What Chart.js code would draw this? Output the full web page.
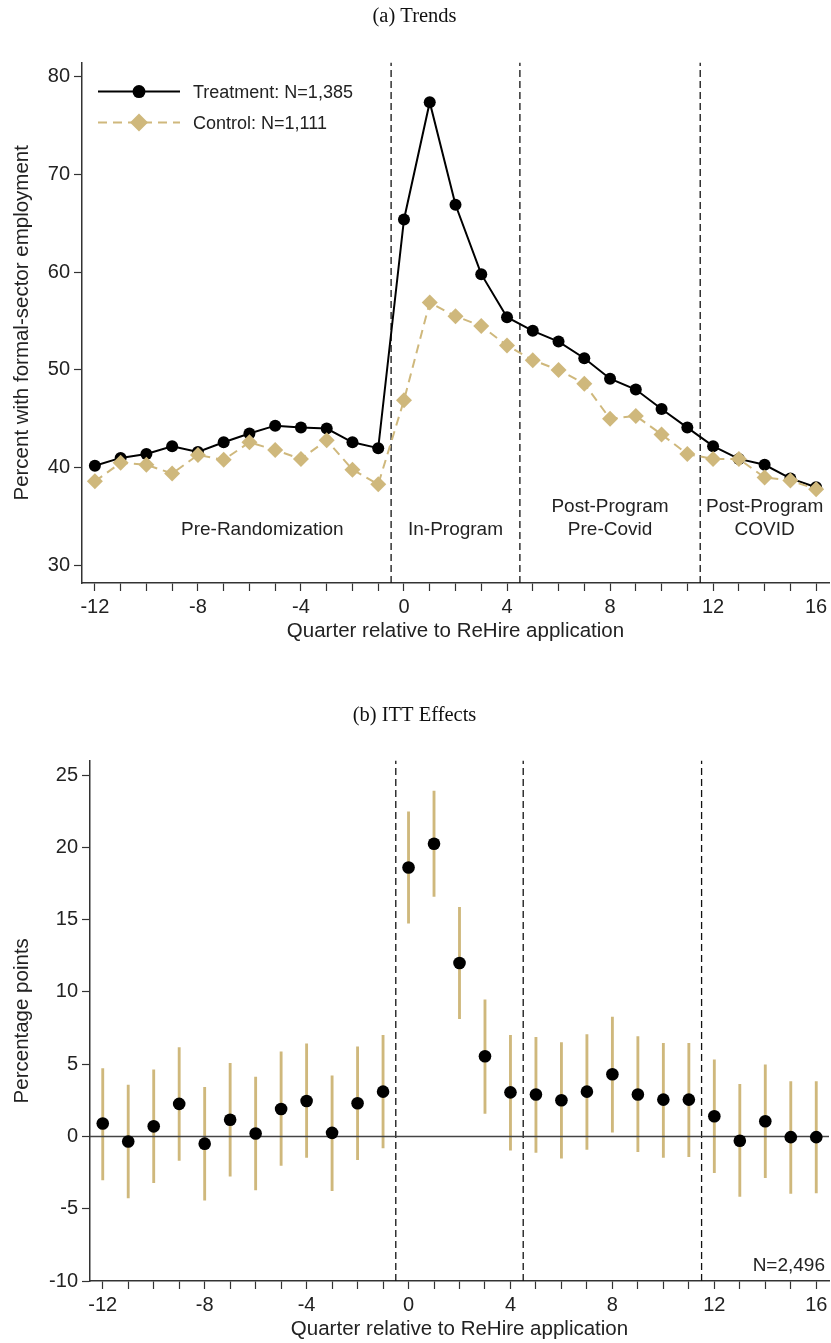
<!DOCTYPE html>
<html>
<head>
<meta charset="utf-8">
<title>ReHire: employment trends and ITT effects</title>
<script src="https://cdn.jsdelivr.net/npm/chart.js@4.4.0/dist/chart.umd.min.js"></script>
<style>
  body { margin: 0; background: #fff; }
  #page { position: relative; width: 831px; height: 1343px; }
  #trendChart { position: absolute; left: 0; top: 0; }
  #ittChart { position: absolute; left: 0; top: 650px; }
</style>
</head>
<body>
<div id="page">
  <canvas id="trendChart" width="831" height="650"></canvas>
  <canvas id="ittChart" width="831" height="693"></canvas>
</div>
<script>
// Quarters relative to the ReHire application
var quarters = [-12, -11, -10, -9, -8, -7, -6, -5, -4, -3, -2, -1, 0, 1, 2, 3, 4, 5, 6, 7, 8, 9, 10, 11, 12, 13, 14, 15, 16];

// (a) percent with formal-sector employment
var treatmentRate = [40.2, 41.0, 41.4, 42.2, 41.6, 42.6, 43.5, 44.3, 44.1, 44.0, 42.6, 42.0,
  65.4, 77.4, 66.9, 59.8, 55.4, 54.0, 52.9, 51.2, 49.1, 48.0, 46.0, 44.1, 42.2, 40.9, 40.3, 38.9, 38.0];
var controlRate = [38.6, 40.5, 40.3, 39.4, 41.3, 40.8, 42.6, 41.8, 40.9, 42.8, 39.8, 38.3,
  46.9, 56.9, 55.5, 54.5, 52.5, 51.0, 50.0, 48.6, 45.0, 45.3, 43.4, 41.4, 40.9, 40.9, 39.0, 38.7, 37.8];
var treatmentLabel = "Treatment: N=1,385";
var controlLabel = "Control: N=1,111";

// (b) ITT estimates with confidence interval bounds (percentage points)
var ittEstimate = [0.9, -0.35, 0.7, 2.25, -0.5, 1.15, 0.2, 1.9, 2.45, 0.25, 2.3, 3.1,
  18.6, 20.25, 12.0, 5.55, 3.05, 2.9, 2.5, 3.1, 4.3, 2.9, 2.55, 2.55, 1.4, -0.3, 1.05, -0.05, -0.05];
var ittLow = [-3.0, -4.25, -3.2, -1.65, -4.4, -2.75, -3.7, -2.0, -1.45, -3.75, -1.6, -0.8,
  14.75, 16.6, 8.15, 1.6, -0.95, -1.1, -1.5, -0.9, 0.3, -1.05, -1.45, -1.4, -2.5, -4.15, -2.85, -3.95, -3.9];
var ittHigh = [4.7, 3.55, 4.6, 6.15, 3.4, 5.05, 4.1, 5.85, 6.4, 4.2, 6.2, 7.0,
  22.45, 23.9, 15.85, 9.45, 7.0, 6.85, 6.5, 7.05, 8.25, 6.9, 6.45, 6.45, 5.3, 3.6, 4.95, 3.8, 3.8];
var ittSample = "N=2,496";

// Program periods
var periodBreaks = [-0.5, 4.5, 11.5];
var periodNames = [["Pre-Randomization"], ["In-Program"], ["Post-Program", "Pre-Covid"], ["Post-Program", "COVID"]];
var periodCenters = [-5.5, 2, 8, 14];

var trendTicks = [30, 40, 50, 60, 70, 80];
var ittTicks = [-10, -5, 0, 5, 10, 15, 20, 25];

var gold = "#CFB87C";
var SANS = "'Liberation Sans', Arial, sans-serif";
var SERIF = "'Liberation Serif', 'Times New Roman', serif";

Chart.defaults.font.family = SANS;
Chart.defaults.color = "#222";

function points(ys) {
  return quarters.map(function (q, i) { return { x: q, y: ys[i] }; });
}

// vertical dashed lines between periods
function dividers(yMin, yMax) {
  return periodBreaks.map(function (b) {
    return {
      type: "line",
      data: [{ x: b, y: yMin }, { x: b, y: yMax }],
      borderColor: "#111",
      borderWidth: 1.3,
      borderDash: [7, 4],
      pointRadius: 0,
      fill: false
    };
  });
}

function xAxis(boxHeight, titlePad) {
  return {
    type: "linear",
    min: -12.5,
    max: 16.5,
    offset: false,
    afterBuildTicks: function (scale) {
      scale.ticks = quarters.map(function (q) { return { value: q }; });
    },
    afterFit: function (scale) {
      scale.height = boxHeight;
      // the end labels sit inside the axis range, no extra room needed
      scale.paddingLeft = 0;
      scale.paddingRight = 0;
    },
    ticks: {
      autoSkip: false,
      maxRotation: 0,
      padding: 4,
      color: "#222",
      font: { size: 20 },
      callback: function (v) { return v % 4 === 0 ? String(v) : ""; }
    },
    grid: { drawOnChartArea: false, drawTicks: true, tickLength: 8, tickColor: "#333", tickWidth: 1.2, offset: false },
    border: { display: true, color: "#333", width: 1.5 },
    title: {
      display: true,
      text: "Quarter relative to ReHire application",
      color: "#222",
      font: { size: 20.5 },
      padding: { top: 0, bottom: titlePad }
    }
  };
}

function yAxis(min, max, tickList, boxWidth, label) {
  return {
    type: "linear",
    min: min,
    max: max,
    afterBuildTicks: function (scale) {
      scale.ticks = tickList.map(function (v) { return { value: v }; });
    },
    afterFit: function (scale) { scale.width = boxWidth; },
    ticks: { padding: 4, color: "#222", font: { size: 20 } },
    grid: { drawOnChartArea: false, drawTicks: true, tickLength: 8, tickColor: "#333", tickWidth: 1.2 },
    border: { display: true, color: "#333", width: 1.5 },
    title: {
      display: true,
      text: label,
      color: "#222",
      font: { size: 20.5 },
      padding: { top: 10, bottom: 0 }
    }
  };
}

// period names along the bottom of panel (a)
var periodText = {
  id: "periodText",
  afterDatasetsDraw: function (chart) {
    var ctx = chart.ctx, xs = chart.scales.x, area = chart.chartArea;
    ctx.save();
    ctx.font = "19px " + SANS;
    ctx.fillStyle = "#222";
    ctx.textAlign = "center";
    ctx.textBaseline = "middle";
    periodNames.forEach(function (lines, k) {
      var px = xs.getPixelForValue(periodCenters[k]);
      lines.forEach(function (txt, j) {
        ctx.fillText(txt, px, area.bottom - 53 - (lines.length - 1 - j) * 23);
      });
    });
    ctx.restore();
  }
};

// key in the upper left corner of panel (a)
var trendKey = {
  id: "trendKey",
  afterDatasetsDraw: function (chart) {
    var ctx = chart.ctx, area = chart.chartArea;
    var rows = [chart.data.datasets[1], chart.data.datasets[0]];
    ctx.save();
    rows.forEach(function (ds, k) {
      var y = area.top + 29 + k * 31;
      var x0 = area.left + 16, x1 = area.left + 98, xm = (x0 + x1) / 2;
      ctx.strokeStyle = ds.borderColor;
      ctx.lineWidth = ds.borderWidth;
      ctx.setLineDash(ds.borderDash || []);
      ctx.beginPath();
      ctx.moveTo(x0, y);
      ctx.lineTo(x1, y);
      ctx.stroke();
      ctx.setLineDash([]);
      ctx.fillStyle = ds.backgroundColor;
      Chart.helpers.drawPoint(ctx, { pointStyle: ds.pointStyle, radius: ds.pointStyle === "rectRot" ? 9 : 6.5, rotation: 0, borderWidth: 0 }, xm, y);
      ctx.fillStyle = "#222";
      ctx.font = "18px " + SANS;
      ctx.textAlign = "left";
      ctx.textBaseline = "middle";
      ctx.fillText(ds.label, area.left + 111, y + 1);
    });
    ctx.restore();
  }
};

var sampleNote = {
  id: "sampleNote",
  afterDatasetsDraw: function (chart) {
    var ctx = chart.ctx, area = chart.chartArea;
    ctx.save();
    ctx.font = "19px " + SANS;
    ctx.fillStyle = "#222";
    ctx.textAlign = "right";
    ctx.textBaseline = "middle";
    ctx.fillText(ittSample, area.right - 4, area.bottom - 15);
    ctx.restore();
  }
};

var trendMin = 28.2, trendMax = 81.45;

var trendChart = new Chart(document.getElementById("trendChart"), {
  type: "line",
  data: {
    datasets: [{
      label: controlLabel,
      data: points(controlRate),
      borderColor: gold,
      backgroundColor: gold,
      borderWidth: 2,
      borderDash: [9, 6],
      pointStyle: "rectRot",
      pointRadius: 8,
      pointBorderWidth: 0,
      tension: 0
    }, {
      label: treatmentLabel,
      data: points(treatmentRate),
      borderColor: "#000",
      backgroundColor: "#000",
      borderWidth: 2,
      pointStyle: "circle",
      pointRadius: 6,
      pointBorderWidth: 0,
      tension: 0
    }].concat(dividers(trendMin, trendMax))
  },
  options: {
    responsive: false,
    animation: false,
    layout: { autoPadding: false, padding: { left: 0, right: 2, top: 0, bottom: 0 } },
    plugins: {
      legend: { display: false },
      tooltip: { enabled: false },
      title: {
        display: true,
        text: "(a) Trends",
        color: "#111",
        font: { family: SERIF, size: 20.5, weight: "normal" },
        padding: { top: 4, bottom: 34 }
      }
    },
    scales: {
      x: xAxis(67, 6),
      y: yAxis(trendMin, trendMax, trendTicks, 82, "Percent with formal-sector employment")
    }
  },
  plugins: [periodText, trendKey]
});

var ittMin = -10, ittMax = 26;

var ittChart = new Chart(document.getElementById("ittChart"), {
  type: "scatter",
  data: {
    datasets: [{
      label: "ITT",
      data: points(ittEstimate),
      backgroundColor: "#000",
      borderColor: "#000",
      pointRadius: 6.3,
      pointBorderWidth: 0
    }, {
      type: "line",
      label: "zero",
      data: [{ x: -12.5, y: 0 }, { x: 16.5, y: 0 }],
      borderColor: "#444",
      borderWidth: 1.6,
      pointRadius: 0
    }, {
      type: "bar",
      label: "CI",
      data: quarters.map(function (q, i) { return { x: q, y: [ittLow[i], ittHigh[i]] }; }),
      backgroundColor: gold,
      borderWidth: 0,
      barThickness: 2.2
    }].concat(dividers(ittMin, ittMax))
  },
  options: {
    responsive: false,
    animation: false,
    layout: { autoPadding: false, padding: { left: 0, right: 2, top: 0, bottom: 0 } },
    plugins: {
      legend: { display: false },
      tooltip: { enabled: false },
      title: {
        display: true,
        text: "(b) ITT Effects",
        color: "#111",
        font: { family: SERIF, size: 20.5, weight: "normal" },
        padding: { top: 53, bottom: 33 }
      }
    },
    scales: {
      x: xAxis(62, 1),
      y: yAxis(ittMin, ittMax, ittTicks, 90, "Percentage points")
    }
  },
  plugins: [sampleNote]
});
</script>
</body>
</html>
